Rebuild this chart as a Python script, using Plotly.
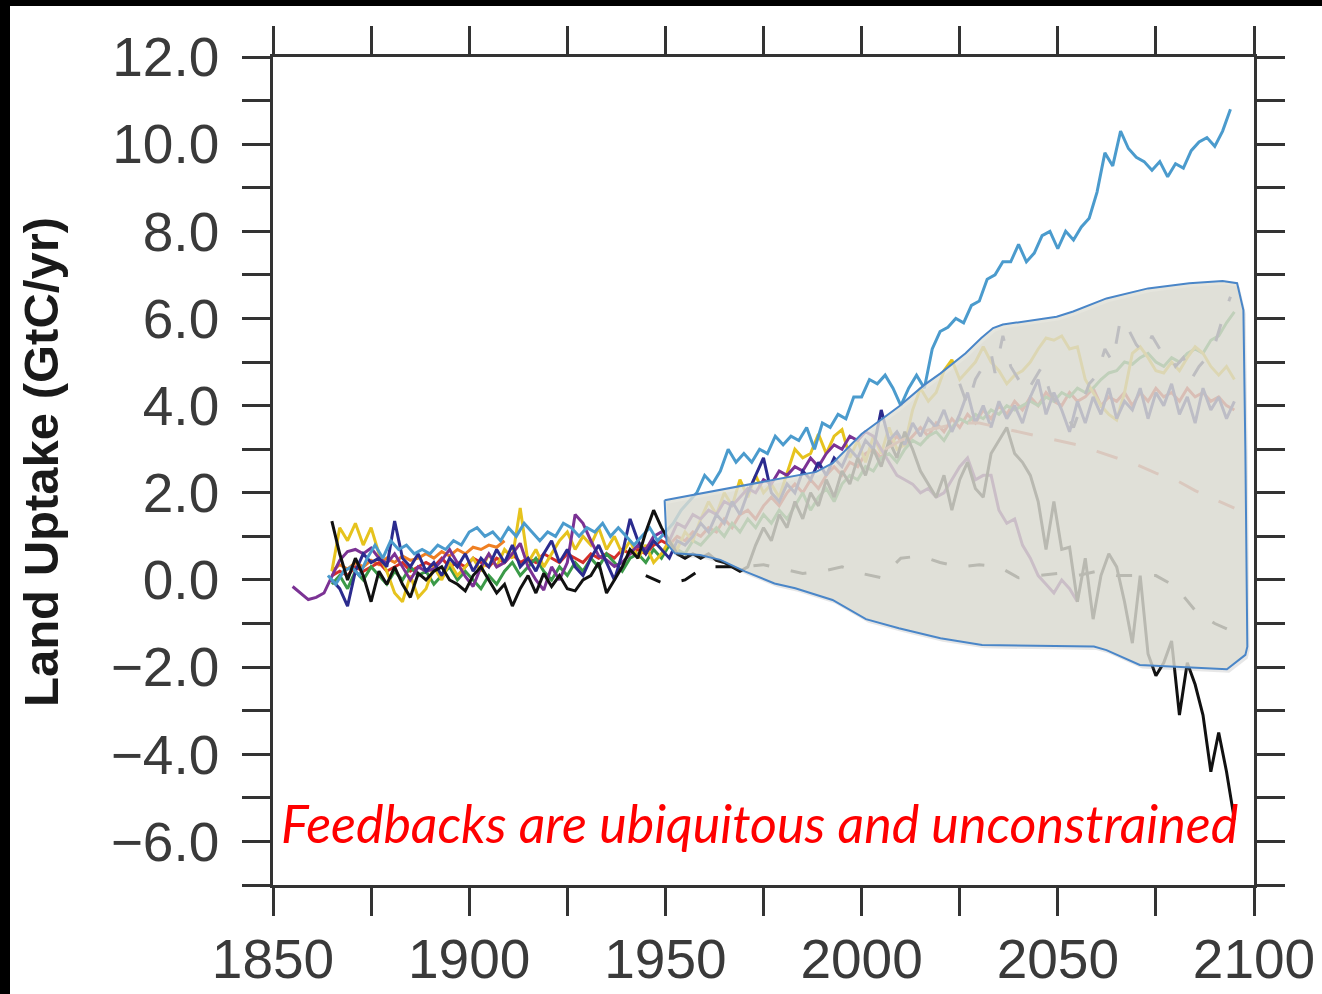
import plotly.graph_objects as go

# ---------------- data ----------------
blue_start = 1864
blue_vals = [0.1, -0.1, 0.2, 0.3, 0.1, 0.5, 0.8, 0.5, 0.9, 0.7, 0.8, 0.6, 0.7, 0.6, 0.8, 0.7,
             0.9, 0.8, 1.1, 1.2, 1.0, 1.1, 0.9, 1.2, 1.0, 1.3, 1.1, 0.9, 1.1, 1.0, 1.3, 1.2,
             1.0, 1.2, 1.1, 1.3, 1.0, 1.2, 1.0, 0.8, 1.0, 1.2, 0.9, 1.1, 1.3, 1.6, 1.8, 2.0,
             2.4, 2.2, 2.5, 3.0, 2.7, 2.9, 2.7, 3.0, 2.9, 3.3, 3.1, 3.3, 3.2, 3.5, 3.0, 3.6,
             3.5, 3.8, 3.7, 4.2, 4.2, 4.6, 4.5, 4.7, 4.4, 4.0, 4.4, 4.7, 4.4, 5.3, 5.7, 5.8,
             6.0, 5.9, 6.3, 6.4, 6.9, 7.0, 7.3, 7.3, 7.7, 7.3, 7.5, 7.9, 8.0, 7.6, 8.0, 7.8,
             8.1, 8.3, 8.9, 9.8, 9.5, 10.3, 9.9, 9.7, 9.6, 9.4, 9.6, 9.25, 9.55, 9.45, 9.85,
             10.05, 10.15, 9.95, 10.3, 10.8]

black_start = 1865
black_vals = [1.35, 0.6, 0.0, 0.5, 0.1, -0.5, 0.2, -0.1, 0.3, -0.1, -0.4, 0.15, 0.0, 0.2, 0.3,
              0.0, -0.1, -0.25, 0.1, 0.3, 0.0, -0.3, -0.1, -0.6, -0.2, 0.1, -0.3, 0.15, -0.15,
              0.1, -0.2, -0.25, 0.0, 0.1, 0.4, -0.3, 0.0, 0.3, 0.7, 0.5, 1.1, 1.6, 1.2, 0.9,
              0.6, 0.5, 0.6, 0.5, 0.6, 0.45, 0.4, 0.3, 0.2, 0.3, 0.8, 1.2, 0.9, 1.5, 1.2, 1.8,
              1.4, 2.0, 1.7, 2.3, 1.9, 2.5, 2.2, 2.8, 2.4, 3.0, 2.6, 3.2, 2.8, 3.4, 3.0, 2.5,
              2.2, 1.9, 2.4, 1.6, 2.3, 2.7, 2.1, 1.9, 2.9, 3.2, 3.5, 2.9, 2.7, 2.4, 1.8, 0.7,
              1.8, 0.7, 0.75, -0.5, 0.5, -0.9, 0.1, 0.6, 0.3, -0.5, -1.45, 0.1, -1.7, -2.2,
              -1.9, -1.4, -3.1, -1.9, -2.4, -3.1, -4.4, -3.5, -4.4, -5.5]

yellow_start = 1865
yellow_vals = [0.2, 1.2, 0.9, 1.3, 0.8, 1.2, 0.6, 0.2, -0.3, -0.5, 0.1, -0.4, -0.2, 0.3, 0.0,
               0.4, 0.1, 0.3, 0.5, 0.2, 0.6, 0.3, 0.7, 0.5, 1.65, 0.4, 0.7, 0.3, 0.6, 0.9, 1.1,
               0.7, 1.0, 0.8, 1.2, 0.7, 1.0, 0.6, 0.9, 0.5, 0.8, 0.4, 0.6, 0.9, 0.7, 1.1, 0.9,
               1.4, 1.8, 1.5, 2.0, 1.7, 2.3, 1.9, 2.4, 2.0, 2.2, 1.9, 2.45, 3.0, 2.8, 2.9, 3.35,
               2.9, 3.3, 3.45, 2.8, 3.2, 2.7, 3.3, 2.9, 3.5, 3.0, 3.1, 3.9, 4.4, 4.1, 4.3, 4.8,
               5.05, 4.6, 4.8, 5.0, 5.35, 5.0, 4.8, 4.5, 4.7, 4.8, 5.0, 5.3, 5.55, 5.5, 5.6, 5.3,
               5.35, 4.6, 4.3, 4.0, 3.8, 3.67, 4.3, 5.2, 5.35, 5.1, 4.8, 4.75, 5.0, 4.8, 5.1,
               5.35, 5.2, 4.9, 4.7, 4.9, 4.6]

purple_start = 1855
purple_vals = [-0.15, -0.3, -0.45, -0.4, -0.3, 0.08, 0.45, 0.65, 0.7, 0.6, 0.73, 0.5, 0.38, 0.6,
               0.3, 0.0, 0.3, 0.2, 0.25, 0.45, 0.7, 0.38, 0.08, -0.15, 0.3, 0.6, 0.3, 0.4, 0.6,
               0.84, 0.3, 0.0, -0.23, 0.3, 0.0, 0.4, 1.5, 1.3, 0.9, 0.55, 0.46, 0.31, 0.4, 0.6,
               0.8, 0.7, 1.0, 1.1, 0.9, 1.3, 1.2, 1.5, 1.4, 1.6, 1.5, 1.8, 1.7, 1.9, 2.1, 2.0,
               2.3, 2.2, 2.5, 2.4, 2.6, 2.5, 2.8, 2.6, 2.9, 3.1, 3.0, 3.3, 3.2, 3.4, 3.3, 3.0,
               2.7, 2.4, 2.3, 2.2, 2.0, 2.1, 1.9, 2.0, 2.3, 2.6, 2.8, 2.3, 2.4, 2.4, 1.6, 1.3,
               1.4, 0.8, 0.5, 0.1, -0.1, -0.3, 0.0, -0.2, -0.5]

navy_start = 1865
navy_vals = [0.0, -0.2, -0.6, 0.2, 0.6, 0.4, 0.5, 0.3, 1.35, 0.5, 0.3, 0.6, 0.2, 0.4, 0.1, 0.5,
             0.3, 0.6, 0.2, 0.5, 0.3, 0.7, 0.4, 0.8, 0.3, 0.5, 0.2, 0.6, 0.9, 0.4, 0.7, 0.3,
             0.1, 0.5, 0.8, 0.4, 0.0, 0.6, 1.4, 0.9, 0.6, 0.9, 0.7, 0.5, 0.9, 0.8, 1.0, 1.3,
             1.1, 1.5, 1.3, 1.8, 1.5, 2.0, 2.4, 2.8, 2.0, 1.8, 2.2, 2.0, 2.5, 2.3, 2.7, 2.4,
             2.8, 2.6, 3.0, 2.8, 3.2, 3.0, 3.9, 3.2, 3.4, 3.1, 3.6, 3.3, 3.7, 3.5, 3.9, 3.4,
             3.8, 4.3, 3.6, 4.0, 3.5, 4.1, 3.7, 4.0, 3.6, 4.2, 4.6, 3.8, 4.3, 3.9, 3.4, 4.1,
             3.6, 4.2, 3.8, 4.4, 3.7, 4.1, 3.9, 4.4, 3.7, 4.3, 4.0, 4.5, 3.8, 4.2, 3.6, 4.4,
             3.9, 4.2, 3.7, 4.1]

green_start = 1865
green_vals = [-0.1, 0.1, -0.2, 0.2, 0.0, 0.3, 0.1, -0.1, 0.2, 0.0, 0.3, 0.1, 0.2, -0.1, 0.1,
              0.3, 0.0, 0.2, 0.0, -0.2, 0.1, -0.1, 0.2, 0.4, 0.1, 0.3, 0.5, 0.2, 0.0, 0.3, 0.1,
              0.4, 0.2, 0.5, 0.3, 0.6, 0.4, 0.2, 0.5, 0.6, 0.4, 0.7, 0.5, 0.8, 0.7, 0.6, 0.9,
              0.8, 1.0, 1.2, 1.0, 1.3, 1.1, 1.4, 1.2, 1.5, 1.3, 1.6, 1.4, 1.7, 2.0, 1.6, 1.9,
              2.1, 1.8, 2.2, 2.4, 2.3, 2.6, 2.5, 2.8, 2.9, 2.7, 3.0, 3.2, 3.1, 3.3, 3.4, 3.2,
              3.5, 3.7, 3.6, 3.8, 3.7, 3.9, 3.8, 4.0, 3.9, 4.0, 4.1, 4.0, 4.2, 4.1, 4.3, 4.2,
              4.4, 4.3, 4.4, 4.6, 4.75, 4.8, 5.0, 4.95, 5.1, 5.2, 5.0, 4.9, 5.1, 5.0, 5.2, 5.3,
              5.2, 5.5, 5.6, 5.9, 6.15]

red_start = 1865
red_vals = [0.1, 0.2, 0.1, 0.3, 0.2, 0.3, 0.4, 0.2, 0.3, 0.4, 0.2, 0.3, 0.4, 0.3, 0.5, 0.3,
            0.4, 0.3, 0.5, 0.4, 0.3, 0.5, 0.4, 0.6, 0.4, 0.5, 0.4, 0.6, 0.5, 0.4, 0.6, 0.5,
            0.4, 0.6, 0.5, 0.6, 0.5, 0.7, 0.6, 0.7, 0.6, 0.8, 0.9, 0.8, 1.0, 0.9, 1.1, 1.0,
            1.2, 1.1, 1.4, 1.2, 1.5, 1.6, 1.4, 1.7, 1.9, 1.7, 2.0, 2.2, 2.0, 2.3, 2.1, 2.4,
            2.6, 2.4, 2.7, 2.6, 2.9, 3.0, 2.8, 3.1, 3.3, 3.1, 3.3, 3.5, 3.3, 3.6, 3.4, 3.7,
            3.5, 3.8, 3.6, 3.9, 3.7, 4.0, 3.8, 4.1, 3.9, 4.2, 4.0, 4.3, 4.1, 4.0, 4.3, 4.1,
            4.2, 4.4, 4.0, 4.2, 4.1, 4.3, 4.0, 4.3, 4.1, 4.4, 4.2, 4.3, 4.1, 4.4, 4.2, 4.3,
            4.1, 4.2, 4.0, 3.9]

orange_start = 1865
orange_vals = [0.2, 0.35, 0.25, 0.4, 0.3, 0.45, 0.35, 0.5, 0.4, 0.55, 0.45, 0.5, 0.6, 0.5,
               0.65, 0.55, 0.7, 0.6, 0.75, 0.7, 0.8, 0.75, 0.9]

red_dash_years = [2006, 2010, 2015, 2020, 2025, 2030, 2035, 2040, 2045, 2050, 2055, 2060, 2065,
                  2070, 2075, 2080, 2085, 2090, 2095]
red_dash_vals = [3.0, 3.2, 3.4, 3.5, 3.6, 3.6, 3.5, 3.4, 3.3, 3.2, 3.1, 2.95, 2.8, 2.65, 2.45,
                 2.3, 2.05, 1.85, 1.65]

black_dash_years = [1945, 1950, 1955, 1960, 1965, 1970, 1975, 1980, 1985, 1990, 1995, 2000, 2005,
                    2010, 2015, 2020, 2025, 2030, 2035, 2040, 2045, 2050, 2055, 2060, 2065, 2070,
                    2075, 2080, 2085, 2090, 2095]
black_dash_vals = [0.1, -0.1, 0.0, 0.3, 0.3, 0.3, 0.35, 0.25, 0.15, 0.2, 0.3, 0.15, 0.05, 0.5,
                   0.55, 0.4, 0.3, 0.35, 0.3, 0.05, 0.1, 0.15, 0.1, 0.2, 0.1, 0.1, 0.1, -0.15,
                   -0.7, -1.0, -1.2]

navy_dash_years = [2025, 2027, 2029, 2031, 2033, 2034, 2036, 2038, 2040, 2042, 2044, 2046, 2048,
                   2050, 2052, 2054, 2056, 2058, 2060, 2062, 2064, 2066, 2068, 2070, 2072, 2074,
                   2076, 2078, 2080, 2082, 2084, 2086, 2088, 2090, 2092, 2094]
navy_dash_vals = [4.5, 4.0, 4.6, 4.9, 5.2, 4.75, 5.6, 4.9, 4.6, 4.3, 4.6, 4.9, 4.3, 4.0, 3.8,
                  3.5, 4.0, 4.5, 4.7, 5.3, 5.0, 6.0, 5.75, 5.4, 5.2, 5.6, 5.3, 5.3, 4.9, 5.1,
                  4.6, 4.9, 5.1, 5.4, 6.0, 6.5]

# hand-drawn uncertainty region (year, GtC/yr)
poly_years = [1949.8, 1988.4, 1992.6, 2000.0, 2009.5, 2015.9, 2020.1, 2026.5, 2030.5, 2033.5,
              2036.0, 2049.7, 2053.9, 2062.4, 2073.0, 2083.5, 2092.0, 2095.7, 2097.3, 2097.8,
              2098.3, 2097.8, 2093.1, 2070.9, 2062.4, 2059.2, 2030.7, 2020.1, 2009.5, 2001.1,
              1992.6, 1983.1, 1977.8, 1970.4, 1964.0, 1958.8, 1952.4, 1950.3, 1949.8]
poly_vals = [1.83, 2.48, 2.68, 3.35, 3.98, 4.47, 4.74, 5.20, 5.55, 5.78, 5.86, 6.04, 6.16, 6.46,
             6.69, 6.81, 6.86, 6.81, 6.19, 2.98, -1.53, -1.72, -2.05, -1.95, -1.61, -1.53, -1.49,
             -1.34, -1.11, -0.90, -0.46, -0.19, -0.08, 0.19, 0.46, 0.57, 0.61, 0.84, 1.83]

x_tick_vals = [1850, 1875, 1900, 1925, 1950, 1975, 2000, 2025, 2050, 2075, 2100]
x_tick_text = ["1850", "", "1900", "", "1950", "", "2000", "", "2050", "", "2100"]
y_tick_vals = list(range(-7, 13))
y_tick_text = [("\u2212%.1f" % -v if v < 0 else "%.1f" % v) if v % 2 == 0 else "" for v in y_tick_vals]

title_text = "Land Uptake (GtC/yr)"
note_text = "Feedbacks are ubiquitous and unconstrained"


def yrs(start, vals, step=2):
    return [start + step * i for i in range(len(vals))]


fig = go.Figure()

solid = [
    (orange_start, orange_vals, "#ef7f22"),
    (red_start, red_vals, "#d42f2a"),
    (green_start, green_vals, "#3b9a48"),
    (yellow_start, yellow_vals, "#e6c31e"),
    (purple_start, purple_vals, "#7b3294"),
    (navy_start, navy_vals, "#2b2b8e"),
    (blue_start, blue_vals, "#4b9bcd"),
    (black_start, black_vals, "#111111"),
]
for start, vals, col in solid:
    fig.add_trace(go.Scatter(x=yrs(start, vals), y=vals, mode="lines",
                             line=dict(color=col, width=3), hoverinfo="skip"))

fig.add_trace(go.Scatter(x=red_dash_years, y=red_dash_vals, mode="lines",
                         line=dict(color="#d9705f", width=3, dash="22px,22px"), hoverinfo="skip"))
fig.add_trace(go.Scatter(x=black_dash_years, y=black_dash_vals, mode="lines",
                         line=dict(color="#111111", width=3, dash="16px,22px"), hoverinfo="skip"))
fig.add_trace(go.Scatter(x=navy_dash_years, y=navy_dash_vals, mode="lines",
                         line=dict(color="#2b2b6e", width=3, dash="18px,24px"), hoverinfo="skip"))

# shadow + region
fig.add_trace(go.Scatter(x=[v + 0.6 for v in poly_years], y=[v - 0.08 for v in poly_vals],
                         mode="lines", fill="toself", fillcolor="rgba(120,120,120,0.18)",
                         line=dict(width=0), hoverinfo="skip"))
fig.add_trace(go.Scatter(x=poly_years, y=poly_vals, mode="lines", fill="toself",
                         fillcolor="rgba(222,222,213,0.80)",
                         line=dict(color="#4a86c8", width=2), hoverinfo="skip"))

axis_common = dict(showgrid=False, zeroline=False, showline=True, linecolor="#333333",
                   linewidth=2.5, ticks="outside", ticklen=28, tickwidth=2.5, tickcolor="#333333",
                   mirror="ticks")

fig.update_xaxes(range=[1850, 2100], tickmode="array", tickvals=x_tick_vals, ticktext=x_tick_text,
                 tickfont=dict(family="Liberation Sans, Arial", size=55, color="#3a3a3a"),
                 ticklabelstandoff=-4, **axis_common)
fig.update_yaxes(range=[-7, 12], tickmode="array", tickvals=y_tick_vals, ticktext=y_tick_text,
                 tickfont=dict(family="Liberation Sans, Arial", size=55, color="#3a3a3a"),
                 ticklabelstandoff=12, **axis_common)

W, H = 1322, 994
L, R, T, B = 273, 68, 57, 109
pw, ph = W - L - R, H - T - B


def px_x(p):
    return (p - L) / pw


def px_y(p):
    return (H - B - p) / ph


fig.add_annotation(text="<b>" + title_text + "</b>", textangle=-90, xref="paper", yref="paper",
                   x=px_x(41), y=px_y(462), xanchor="center", yanchor="middle", showarrow=False,
                   font=dict(family="Liberation Sans, Arial", size=49, color="#1a1a1a"))
fig.add_annotation(text=note_text, xref="paper", yref="paper", x=px_x(279), y=px_y(823),
                   xanchor="left", yanchor="middle", showarrow=False,
                   font=dict(family="Lato", size=52, color="#ff0000", style="italic"))

# black frame strips at the top and left of the picture
fig.add_shape(type="rect", xref="paper", yref="paper", x0=px_x(0), x1=px_x(10), y0=px_y(H),
              y1=px_y(0), fillcolor="black", line=dict(width=0), layer="above")
fig.add_shape(type="rect", xref="paper", yref="paper", x0=px_x(0), x1=px_x(W), y0=px_y(6),
              y1=px_y(0), fillcolor="black", line=dict(width=0), layer="above")

fig.update_layout(width=W, height=H, margin=dict(l=L, r=R, t=T, b=B, autoexpand=False),
                  paper_bgcolor="white", plot_bgcolor="white", showlegend=False)

fig.write_html("out.html")
